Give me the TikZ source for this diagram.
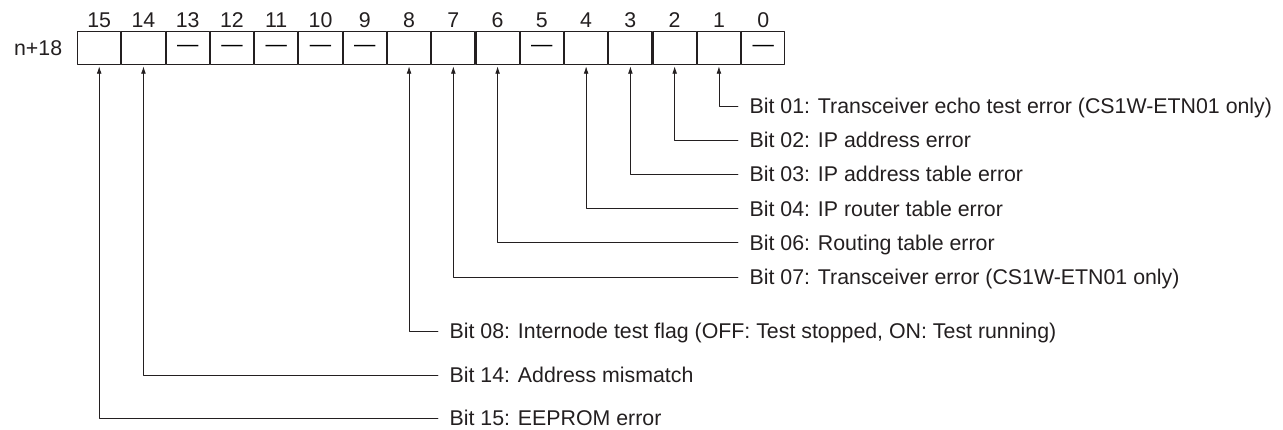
\documentclass[tikz,border=0pt]{standalone}
\usepackage{fontspec}
\setmainfont{Liberation Sans}
\usetikzlibrary{positioning,arrows.meta}
\definecolor{ink}{HTML}{231F20}
\tikzset{
  cell/.style={draw=ink,line width=0.8pt,minimum width=32.4pt,minimum height=24.7pt,inner sep=0pt},
  num/.style={inner sep=0pt,text=ink},
  lab/.style={anchor=west,inner xsep=8.5pt,inner ysep=0pt,text height=11.3pt,text depth=0pt,text=ink},
  lead/.style={draw=ink,line width=0.6pt,<-,shorten <=1pt}
}
\begin{document}
\begin{tikzpicture}[x=0.75pt,y=-0.75pt,line cap=round,line join=round,>={Latex[length=5.5pt,width=3.6pt]},
  every node/.style={font=\fontsize{16}{19.2}\selectfont}]
  \useasboundingbox (0,0) rectangle (1283,429);
  % register word n+18
  \node[cell] (c15) at (99.2,48) {};
  \node[cell,right=0pt of c15] (c14) {};
  \node[cell,right=0pt of c14] (c13) {---};
  \node[cell,right=0pt of c13] (c12) {---};
  \node[cell,right=0pt of c12] (c11) {---};
  \node[cell,right=0pt of c11] (c10) {---};
  \node[cell,right=0pt of c10] (c9) {---};
  \node[cell,right=0pt of c9] (c8) {};
  \node[cell,right=0pt of c8] (c7) {};
  \node[cell,right=0pt of c7] (c6) {};
  \node[cell,right=0pt of c6] (c5) {---};
  \node[cell,right=0pt of c5] (c4) {};
  \node[cell,right=0pt of c4] (c3) {};
  \node[cell,right=0pt of c3] (c2) {};
  \node[cell,right=0pt of c2] (c1) {};
  \node[cell,right=0pt of c1] (c0) {---};
  \node[num,left=11pt of c15] (word) {n+18};
  % bit numbers
  \node[num,above=2.5pt of c15] (n15) {15};
  \node[num,above=2.5pt of c14] (n14) {14};
  \node[num,above=2.5pt of c13] (n13) {13};
  \node[num,above=2.5pt of c12] (n12) {12};
  \node[num,above=2.5pt of c11] (n11) {11};
  \node[num,above=2.5pt of c10] (n10) {10};
  \node[num,above=2.5pt of c9] (n9) {9};
  \node[num,above=2.5pt of c8] (n8) {8};
  \node[num,above=2.5pt of c7] (n7) {7};
  \node[num,above=2.5pt of c6] (n6) {6};
  \node[num,above=2.5pt of c5] (n5) {5};
  \node[num,above=2.5pt of c4] (n4) {4};
  \node[num,above=2.5pt of c3] (n3) {3};
  \node[num,above=2.5pt of c2] (n2) {2};
  \node[num,above=2.5pt of c1] (n1) {1};
  \node[num,above=2.5pt of c0] (n0) {0};
  % meaning of the bits
  \node[lab] (b01) at (738,106) {Bit 01: Transceiver echo test error (CS1W-ETN01 only)};
  \node[lab] (b02) at (738,140.2) {Bit 02: IP address error};
  \node[lab] (b03) at (738,174.4) {Bit 03: IP address table error};
  \node[lab] (b04) at (738,208.6) {Bit 04: IP router table error};
  \node[lab] (b06) at (738,242.8) {Bit 06: Routing table error};
  \node[lab] (b07) at (738,277) {Bit 07: Transceiver error (CS1W-ETN01 only)};
  \node[lab] (b08) at (438,331) {Bit 08: Internode test flag (OFF: Test stopped, ON: Test running)};
  \node[lab] (b14) at (438,375) {Bit 14: Address mismatch};
  \node[lab] (b15) at (438,418) {Bit 15: EEPROM error};
  % leaders
  \draw[lead] (c1.south) |- (b01.west);
  \draw[lead] (c2.south) |- (b02.west);
  \draw[lead] (c3.south) |- (b03.west);
  \draw[lead] (c4.south) |- (b04.west);
  \draw[lead] (c6.south) |- (b06.west);
  \draw[lead] (c7.south) |- (b07.west);
  \draw[lead] (c8.south) |- (b08.west);
  \draw[lead] (c14.south) |- (b14.west);
  \draw[lead] (c15.south) |- (b15.west);
\end{tikzpicture}
\end{document}
